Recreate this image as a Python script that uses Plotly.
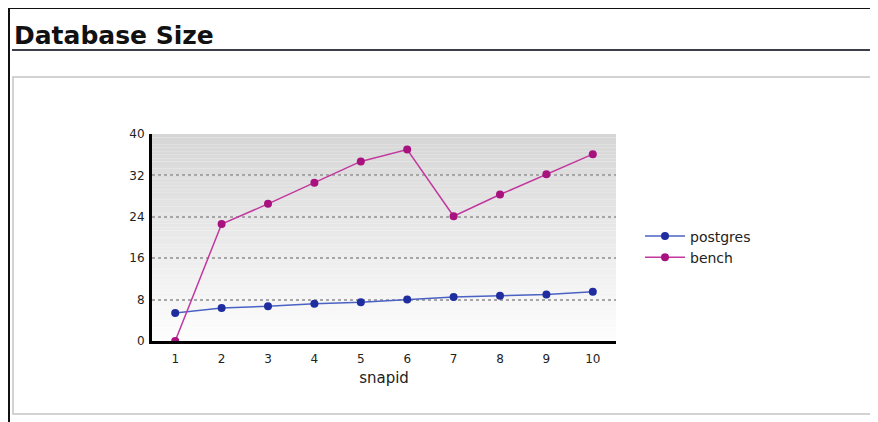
import plotly.graph_objects as go

# ---- data ----
snapid = [1, 2, 3, 4, 5, 6, 7, 8, 9, 10]
postgres = [5.4, 6.4, 6.7, 7.2, 7.5, 8.0, 8.5, 8.75, 9.0, 9.5]
bench = [0.0, 22.6, 26.5, 30.6, 34.7, 37.0, 24.1, 28.3, 32.2, 36.1]
y_ticks = [0, 8, 16, 24, 32, 40]
title_text = "Database Size"
x_title = "snapid"

# the page body has an 8px margin: work in window pixels, shift by OFF
OFF = 8
W, H = 878 - OFF, 422 - OFF
L, R, T, B = 152 - OFF, 616 - OFF, 134 - OFF, 341 - OFF


def px_x(px):
    return (px - OFF - L) / (R - L)


def px_y(py):
    return (B - (py - OFF)) / (B - T)


fig = go.Figure()
fig.add_trace(go.Scatter(
    x=snapid, y=postgres, name="postgres", mode="lines+markers",
    line=dict(color="#4a62c4", width=1.5),
    marker=dict(color="#1f2d9e", size=8),
))
fig.add_trace(go.Scatter(
    x=snapid, y=bench, name="bench", mode="lines+markers",
    line=dict(color="#c2389e", width=1.5),
    marker=dict(color="#a8127f", size=8),
))

shapes = []
# gradient plot background
N = 60
top = (214, 214, 214)
bot = (253, 253, 253)
for i in range(N):
    f = i / (N - 1)
    c = tuple(int(round(bot[k] + (top[k] - bot[k]) * f)) for k in range(3))
    shapes.append(dict(
        type="rect", xref="x domain", yref="y domain",
        x0=0, x1=1, y0=i / N, y1=(i + 1) / N,
        fillcolor="rgb(%d,%d,%d)" % c, line=dict(width=0), layer="below",
    ))
# page borders
shapes.append(dict(type="line", xref="paper", yref="paper",
                   x0=px_x(9), x1=px_x(9), y0=px_y(7), y1=px_y(423),
                   line=dict(color="#111", width=2)))
shapes.append(dict(type="line", xref="paper", yref="paper",
                   x0=px_x(8), x1=px_x(880), y0=px_y(8), y1=px_y(8),
                   line=dict(color="#111", width=2)))
# title underline
shapes.append(dict(type="line", xref="paper", yref="paper",
                   x0=px_x(12), x1=px_x(880), y0=px_y(50), y1=px_y(50),
                   line=dict(color="#3a3f4a", width=2)))
# gray content box
shapes.append(dict(type="rect", xref="paper", yref="paper",
                   x0=px_x(13), x1=px_x(877), y0=px_y(414), y1=px_y(77),
                   line=dict(color="#c4c4c4", width=1.5), layer="below"))

fig.update_layout(
    width=W, height=H,
    margin=dict(l=L, r=W - R, t=T, b=H - B, pad=0),
    paper_bgcolor="white", plot_bgcolor="white",
    font=dict(family="DejaVu Sans", color="#222"),
    shapes=shapes,
    showlegend=True,
    legend=dict(x=px_x(640), y=px_y(247), xanchor="left", yanchor="middle",
                font=dict(size=14, color="#222", family="DejaVu Sans"),
                bgcolor="rgba(0,0,0,0)", tracegroupgap=0, itemwidth=40),
    annotations=[dict(
        text="<b>" + title_text + "</b>", xref="paper", yref="paper",
        x=px_x(12), y=px_y(35), xanchor="left", yanchor="middle",
        showarrow=False, font=dict(family="DejaVu Sans", size=25, color="#111"),
    )],
)
fig.update_xaxes(
    range=[0.5, 10.5], tickmode="array", tickvals=snapid,
    showgrid=False, zeroline=False, showline=True, linecolor="black", linewidth=3,
    ticks="outside", ticklen=5, tickcolor="rgba(0,0,0,0)",
    tickfont=dict(size=12, family="DejaVu Sans", color="#222"),
    title=dict(text=x_title, font=dict(size=15, family="DejaVu Sans", color="#222"), standoff=8),
)
fig.update_yaxes(
    range=[0, 40], tickmode="array", tickvals=y_ticks,
    showgrid=True, gridcolor="#a6a6a6", gridwidth=2, griddash="dot",
    zeroline=False, showline=True, linecolor="black", linewidth=3,
    ticks="outside", ticklen=2, tickcolor="rgba(0,0,0,0)",
    tickfont=dict(size=12, family="DejaVu Sans", color="#222"),
)

fig.write_html("out.html")
